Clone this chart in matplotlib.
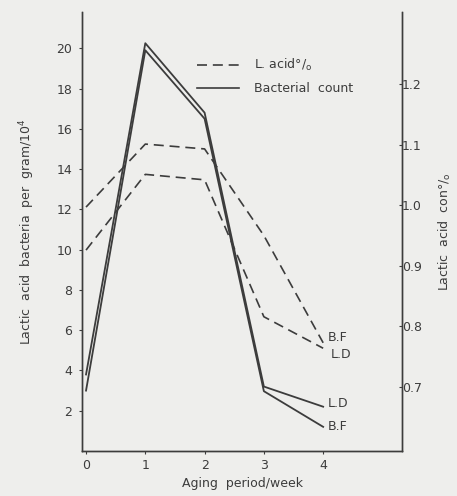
import matplotlib
matplotlib.use("Agg")
import matplotlib.pyplot as plt
from matplotlib.lines import Line2D

weeks = [0, 1, 2, 3, 4]
count_ld = [3.8, 20.25, 16.8, 3.2, 2.2]
count_bf = [3.0, 19.9, 16.5, 2.97, 1.2]
acid_bf = [0.997, 1.101, 1.093, 0.95, 0.773]
acid_ld = [0.926, 1.051, 1.042, 0.816, 0.764]

left_ticks = [2, 4, 6, 8, 10, 12, 14, 16, 18, 20]
right_ticks = [0.7, 0.8, 0.9, 1.0, 1.1, 1.2]
x_ticks = [0, 1, 2, 3, 4]

bg = "#eeeeec"
ink = "#3c3c3c"
fs = 9

plt.rcParams['font.family'] = ['DejaVu Sans']

fig = plt.figure(figsize=(4.57, 4.96), dpi=100, facecolor=bg)
ax = fig.add_axes([82/457, 45/496, 320/457, 439/496])
ax.set_facecolor(bg)
ax2 = ax.twinx()

ax.plot(weeks, count_ld, color=ink, lw=1.3)
ax.plot(weeks, count_bf, color=ink, lw=1.3)
ax2.plot(weeks, acid_bf, color=ink, lw=1.2, dashes=(6, 3.5))
ax2.plot(weeks, acid_ld, color=ink, lw=1.2, dashes=(6, 3.5))

ax.set_xlim(-0.068, 5.33)
ax.set_ylim(0, 21.8)
ax2.set_ylim(0.5944, 1.319)

ax.set_xticks(x_ticks)
ax.set_yticks(left_ticks)
ax2.set_yticks(right_ticks)
ax2.set_yticklabels([f"{t:.1f}" for t in right_ticks])

for a in (ax, ax2):
    a.spines['top'].set_visible(False)
    for s in a.spines.values():
        s.set_color(ink)
        s.set_linewidth(1.0)
ax.tick_params(axis='both', colors=ink, labelsize=fs, length=2, width=0.8, direction='out')
ax.tick_params(axis='x', pad=4)
ax.tick_params(axis='y', pad=5)
ax2.tick_params(axis='y', colors=ink, labelsize=fs, length=2, width=0.8, direction='in', pad=0)

ax.set_xlabel("Aging  period/week", fontsize=fs, color=ink, labelpad=3)
ax.set_ylabel("Lactic  acid  bacteria  per  gram/10$^4$", fontsize=fs, color=ink, labelpad=14)
ax2.set_ylabel("Lactic  acid  con°/$_\\mathsf{o}$", fontsize=fs, color=ink, labelpad=11)

# end labels
ax.text(4.08, 5.64, "B.F", fontsize=fs, color=ink, va='center', ha='left')
ax.text(4.12, 4.8, "L.D", fontsize=fs, color=ink, va='center', ha='left')
ax.text(4.08, 2.38, "L.D", fontsize=fs, color=ink, va='center', ha='left')
ax.text(4.08, 1.24, "B.F", fontsize=fs, color=ink, va='center', ha='left')

handles = [Line2D([], [], color=ink, lw=1.2, dashes=(6, 3.5)),
           Line2D([], [], color=ink, lw=1.2)]
leg = ax.legend(handles, ["L. acid°/$_\\mathsf{o}$", "Bacterial  count"], loc='upper left',
                bbox_to_anchor=(0.339, 0.912), frameon=False, fontsize=fs,
                handlelength=3.4, handletextpad=1.2, labelspacing=0.75, borderpad=0)
for t in leg.get_texts():
    t.set_color(ink)

fig.savefig("out.png", dpi=100, facecolor=bg)
